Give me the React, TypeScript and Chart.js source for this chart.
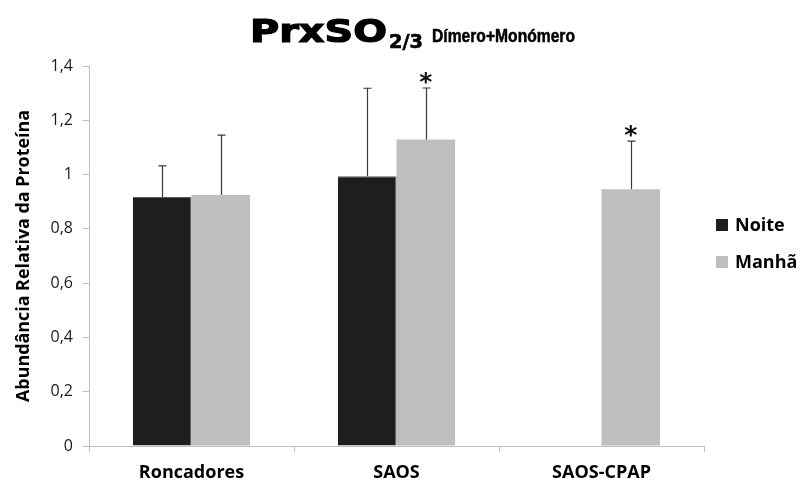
import React, { useEffect, useRef } from "react";
import { Chart, registerables } from "chart.js";

Chart.register(...registerables);

const categories = ["Roncadores", "SAOS", "SAOS-CPAP"];
const seriesNames = ["Noite", "Manhã"];
const noite = [0.917, 0.994, null];
const manha = [0.925, 1.129, 0.946];
const noiteErr = [0.115, 0.324, null];
const manhaErr = [0.22, 0.19, 0.177];
const noiteSig = [false, false, false];
const manhaSig = [false, true, true];
const yTicks = [0, 0.2, 0.4, 0.6, 0.8, 1, 1.2, 1.4];

const COLORS = ["#1e1e1e", "#bfbfbf"];

const errPlugin = {
  id: "errbars",
  afterDatasetsDraw(chart: any) {
    const ctx = chart.ctx;
    const y = chart.scales.y;
    const errs = [noiteErr, manhaErr];
    const sigs = [noiteSig, manhaSig];
    chart.data.datasets.forEach((ds: any, di: number) => {
      const meta = chart.getDatasetMeta(di);
      meta.data.forEach((bar: any, i: number) => {
        const v = ds.data[i];
        const e = errs[di][i];
        if (v == null || e == null) return;
        const top = y.getPixelForValue(v + e);
        const x = Math.round(bar.x) + 0.5;
        ctx.save();
        ctx.strokeStyle = "#3a3a3a";
        ctx.lineWidth = 1.2;
        ctx.beginPath();
        ctx.moveTo(x, bar.y);
        ctx.lineTo(x, top);
        ctx.moveTo(x - 4, top);
        ctx.lineTo(x + 4, top);
        ctx.stroke();
        if (sigs[di][i]) {
          ctx.fillStyle = "#111";
          ctx.font = "bold 25px 'DejaVu Sans'";
          ctx.textAlign = "center";
          ctx.textBaseline = "alphabetic";
          const m = ctx.measureText("*");
          const cy = top - 10;
          const by = cy + (m.actualBoundingBoxAscent - m.actualBoundingBoxDescent) / 2;
          ctx.fillText("*", bar.x, by);
        }
        ctx.restore();
      });
    });
  },
};

function fitText(ctx: any, text: string, x: number, y: number, w: number, stroke = 0) {
  const mw = ctx.measureText(text).width;
  ctx.save();
  ctx.translate(x, y);
  ctx.scale(w / mw, 1);
  ctx.fillText(text, 0, 0);
  if (stroke > 0) {
    ctx.lineWidth = stroke;
    ctx.strokeStyle = ctx.fillStyle;
    ctx.strokeText(text, 0, 0);
  }
  ctx.restore();
}

const decorPlugin = {
  id: "decor",
  afterDraw(chart: any) {
    const ctx = chart.ctx;
    ctx.save();
    ctx.fillStyle = "#000";
    ctx.textAlign = "left";
    ctx.textBaseline = "alphabetic";
    // Title
    ctx.font = "bold 32px 'DejaVu Sans'";
    fitText(ctx, "PrxSO", 250, 42, 137, 1.2);
    ctx.font = "bold 19px 'DejaVu Sans'";
    fitText(ctx, "2/3", 389, 48, 34, 0.6);
    ctx.font = "bold 18px 'Liberation Sans'";
    fitText(ctx, "Dímero+Monómero", 432, 42, 143, 0.5);

    // Y title
    ctx.save();
    ctx.translate(24, 256);
    ctx.rotate(-Math.PI / 2);
    ctx.font = "bold 17px 'Open Sans'";
    ctx.textAlign = "center";
    ctx.textBaseline = "middle";
    const t = "Abundância Relativa da Proteína";
    const mw = ctx.measureText(t).width;
    ctx.scale(292 / mw, 1);
    ctx.fillText(t, 0, 0);
    ctx.restore();

    // Legend
    const ly = [225, 262];
    seriesNames.forEach((n, i) => {
      ctx.fillStyle = COLORS[i];
      ctx.fillRect(716, ly[i] - 6, 12, 12);
      ctx.fillStyle = "#000";
      ctx.font = "bold 18px 'Open Sans'";
      ctx.textAlign = "left";
      ctx.textBaseline = "middle";
      ctx.fillText(n, 735, ly[i] + 1);
    });
    ctx.restore();
  },
};

export default function App() {
  const ref = useRef<HTMLCanvasElement | null>(null);
  useEffect(() => {
    document.body.style.margin = "0";
    const chart = new Chart(ref.current as HTMLCanvasElement, {
      type: "bar",
      data: {
        labels: categories,
        datasets: [
          { label: seriesNames[0], data: noite as any, backgroundColor: COLORS[0], borderColor: "#5a5a5a", borderWidth: { left: 0, right: 1, top: 1, bottom: 0 } as any },
          { label: seriesNames[1], data: manha as any, backgroundColor: COLORS[1] },
        ],
      },
      options: {
        animation: false,
        responsive: false,
        events: [],
        layout: { padding: { top: 66, right: 97, left: 0, bottom: 0 } },
        plugins: { legend: { display: false }, title: { display: false }, tooltip: { enabled: false } },
        datasets: { bar: { categoryPercentage: 0.571, barPercentage: 1.0 } },
        scales: {
          x: {
            grid: { display: true, drawOnChartArea: false, drawTicks: true, tickLength: 6, color: "#bfbfbf", offset: true },
            border: { display: true, color: "#bfbfbf", width: 1 },
            ticks: { color: "#000", font: { family: "'Open Sans'", size: 18, weight: "bold" }, padding: 10 },
            afterFit(s: any) { s.height = 40; },
          },
          y: {
            min: 0,
            max: 1.4,
            afterBuildTicks(s: any) { s.ticks = yTicks.map((v) => ({ value: v })); },
            grid: { display: true, drawOnChartArea: false, drawTicks: true, tickLength: 6, color: "#bfbfbf" },
            border: { display: true, color: "#bfbfbf", width: 1 },
            ticks: {
              color: "#1a1a1a",
              font: { family: "'Open Sans'", size: 16 },
              padding: 10,
              callback: (v: any) => String(Number(v).toFixed(1)).replace(/\.0$/, "").replace(".", ","),
            },
            afterFit(s: any) { s.width = 89; },
          },
        },
      },
      plugins: [errPlugin, decorPlugin],
    });
    return () => chart.destroy();
  }, []);
  return (
    <div style={{ width: 801, height: 486 }}>
      <canvas ref={ref} width={801} height={486} style={{ display: "block" }} />
    </div>
  );
}
